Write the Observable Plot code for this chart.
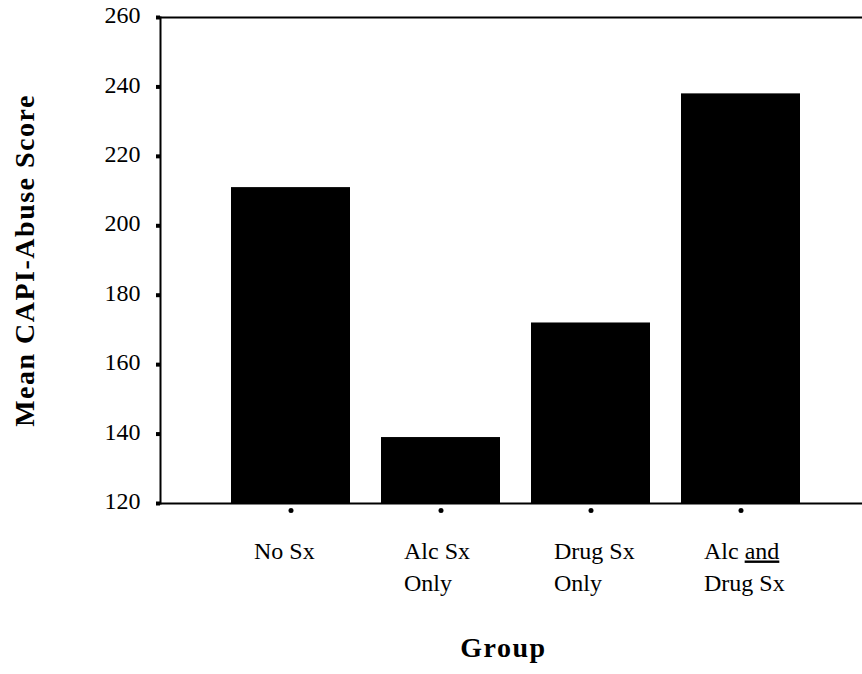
<!DOCTYPE html>
<html>
<head>
<meta charset="utf-8">
<script src="https://cdn.jsdelivr.net/npm/d3@7"></script>
<script src="https://cdn.jsdelivr.net/npm/@observablehq/plot@0.6"></script>
<style>
  html, body { margin: 0; padding: 0; background: #fff; }
  g[font-weight="bold"] text { letter-spacing: 1.5px; }
</style>
</head>
<body>
<div id="chart"></div>
<script>
const groups = ["No Sx", "Alc Sx Only", "Drug Sx Only", "Alc and Drug Sx"];
const groupLabels = ["No Sx", "Alc Sx\nOnly", "Drug Sx\nOnly", "Alc and\nDrug Sx"];
const scores = [211, 139, 172, 238];
const yDomain = [120, 260];
const yTicks = [120, 140, 160, 180, 200, 220, 240, 260];
const yTitle = "Mean CAPI-Abuse Score";
const xTitle = "Group";

const data = groups.map((g, i) => ({group: g, label: groupLabels[i], score: scores[i]}));

const font = "'Liberation Serif', 'Times New Roman', serif";

const chart = Plot.plot({
  width: 862,
  height: 674,
  marginLeft: 160,
  marginRight: 0,
  marginTop: 17,
  marginBottom: 171,
  style: {fontFamily: font, fontSize: "24px", color: "#000", background: "#fff"},
  x: {domain: groups, paddingInner: 0.21, paddingOuter: 0.43, align: 0.53, axis: null},
  y: {domain: yDomain, axis: null},
  marks: [
    Plot.barY(data, {x: "group", y1: yDomain[0], y2: "score", fill: "#000"}),
    Plot.frame({anchor: "left", stroke: "#000", strokeWidth: 2}),
    Plot.frame({anchor: "top", stroke: "#000", strokeWidth: 2}),
    Plot.frame({anchor: "bottom", stroke: "#000", strokeWidth: 2}),
    Plot.axisY({ticks: yTicks, tickSize: 4, strokeWidth: 4, text: null, label: null}),
    Plot.axisY({ticks: yTicks, tickSize: 0, tickPadding: 20, dy: -2, fontSize: 24, label: null, fill: "#000"}),
    Plot.dot(data, {x: "group", frameAnchor: "bottom", dy: 7, r: 2.5, fill: "#000", stroke: null}),
    Plot.text(data, {x: "group", text: "label", frameAnchor: "bottom", lineAnchor: "top",
      textAnchor: "start", dx: -37, dy: 32, lineHeight: 1.35, fontSize: 24, fill: "#000"}),
    Plot.text([yTitle], {text: d => d, frameAnchor: "left", rotate: -90, textAnchor: "middle",
      lineAnchor: "middle", dx: -135, fontSize: 28, fontWeight: "bold", fill: "#000"}),
    Plot.text([xTitle], {text: d => d, frameAnchor: "bottom", textAnchor: "middle",
      lineAnchor: "middle", dx: -8, dy: 145, fontSize: 28, fontWeight: "bold", fill: "#000"})
  ]
});

document.getElementById("chart").appendChild(chart);

// underline "and" in the fourth label
chart.querySelectorAll("tspan, text").forEach(el => {
  if (el.childElementCount === 0 && el.textContent === "Alc and") {
    el.textContent = "Alc ";
    const u = document.createElementNS("http://www.w3.org/2000/svg", "tspan");
    u.textContent = "and";
    u.setAttribute("text-decoration", "underline");
    u.style.textDecoration = "underline";
    el.appendChild(u);
  }
});
</script>
</body>
</html>
